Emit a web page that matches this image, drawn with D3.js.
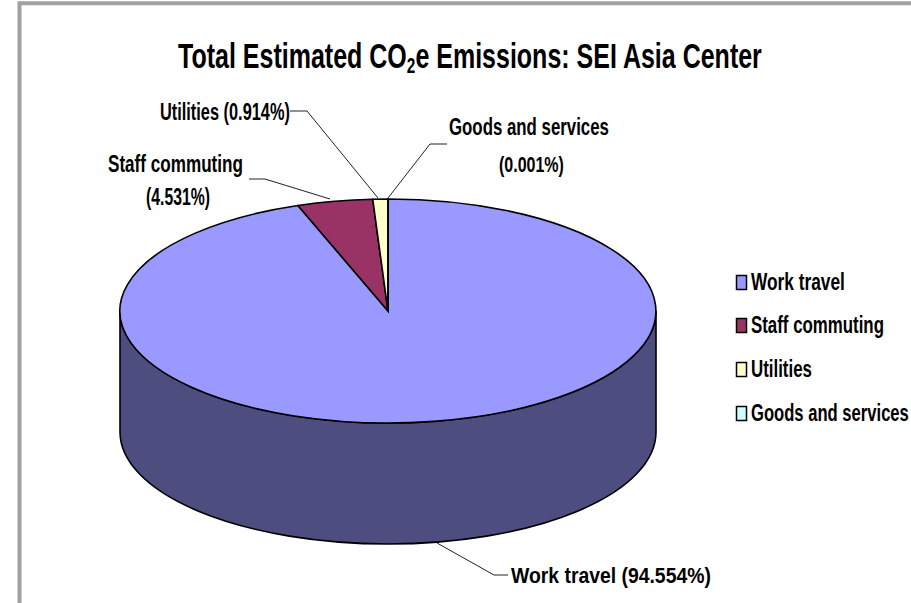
<!DOCTYPE html>
<html><head><meta charset="utf-8">
<script src="https://cdn.jsdelivr.net/npm/d3@7"></script>
<style>html,body{margin:0;padding:0;background:#fff}svg{display:block}
text{font-family:"Liberation Sans Narrow","Liberation Sans",Arial,sans-serif;font-weight:bold;fill:#000}</style>
</head><body><svg id="c" width="911" height="603"></svg>
<script>
const categories = ["Work travel","Staff commuting","Utilities","Goods and services"];
const shares = [94.554,4.531,0.914,0.001];
const colors = ["#9999ff","#993366","#ffffcc","#ccffff"];
const sideColor = "#4d4d80";
const titleParts = ["Total Estimated CO","2","e Emissions: SEI Asia Center"];
const labelLines = [["Work travel (94.554%)"],["Staff commuting","(4.531%)"],["Utilities (0.914%)"],["Goods and services","(0.001%)"]];
const labelBoxes = [
 [{x:511,w:200,y:583}],
 [{x:108,w:135,y:172},{x:146,w:64,y:205}],
 [{x:160,w:130,y:120}],
 [{x:449,w:160,y:135},{x:499,w:65,y:172}]
];
const leaders = [
 [[437,543],[494,575],[508,575]],
 [[249,179],[265,179],[330,199]],
 [[290,111],[307,111],[378,198]],
 [[447,144],[430,144],[388,198]]
];
const legendRows = [290,333,377,421];
const legendWidths = [94,133,61,158];

const svg = d3.select("#c");
// frame
svg.append("path").attr("d","M19.5,603V3.3H911").attr("fill","none").attr("stroke","#a0a0a0").attr("stroke-width",4);

// place a text at x,y and squeeze its glyphs horizontally to a target width
function fit(sel,x,y,w){
  const len=sel.node().getComputedTextLength();
  sel.attr("transform",`translate(${x},${y}) scale(${(w/len).toFixed(4)},1)`);
  return sel;
}

// title: three separate runs laid out one after another
const titleSizes=[36,22,36], titleY=[68,73,68];
const runs=titleParts.map((t,i)=>svg.append("text").attr("font-size",titleSizes[i]).text(t));
const lens=runs.map(r=>r.node().getComputedTextLength());
const k=584/d3.sum(lens);
let tx=178;
runs.forEach((r,i)=>{
  fit(r,tx,titleY[i],lens[i]*k);
  tx+=lens[i]*k;
});

// pie geometry
const cx=388, cy=311, rx=268, ry=112, depth=121;
const pie = d3.pie().sort(null).value(d=>d)(shares);
const arc = d3.arc().innerRadius(0).outerRadius(1);
const g = svg.append("g");
// side wall
const e = (a,dy=0)=>[cx+rx*Math.sin(a),cy-ry*Math.cos(a)+dy];
const sideStart=Math.PI/2, sideEnd=3*Math.PI/2;
const [x0,y0]=e(sideStart),[x1,y1]=e(sideEnd);
g.append("path").datum(pie[0])
 .attr("d",`M${x0},${y0}A${rx},${ry} 0 0 1 ${x1},${y1}L${x1},${y1+depth}A${rx},${ry} 0 0 0 ${x0},${y0+depth}Z`)
 .attr("fill",sideColor).attr("stroke","#000").attr("stroke-width",1.6);
// top slices
g.selectAll("path.s").data(pie).join("path").attr("class","s")
 .attr("transform",`translate(${cx},${cy}) scale(${rx},${ry})`)
 .attr("d",arc)
 .attr("fill",(d,i)=>colors[i]).attr("stroke","#000").attr("stroke-width",1.6)
 .attr("vector-effect","non-scaling-stroke");

// leaders
const line=d3.line();
svg.selectAll("path.l").data(leaders).join("path").attr("class","l")
 .attr("d",line).attr("fill","none").attr("stroke","#222").attr("stroke-width",1);

// labels
labelLines.forEach((lines,i)=>lines.forEach((t,j)=>{
  const b=labelBoxes[i][j];
  fit(svg.append("text").attr("font-size",23).text(t),b.x,b.y,b.w);
}));

// legend
categories.forEach((c,i)=>{
  svg.append("rect").attr("x",736.5).attr("y",legendRows[i]-14.5).attr("width",10).attr("height",14)
   .attr("fill",colors[i]).attr("stroke","#000").attr("stroke-width",1.5);
  fit(svg.append("text").attr("font-size",23).text(c),751,legendRows[i],legendWidths[i]);
});
</script></body></html>
